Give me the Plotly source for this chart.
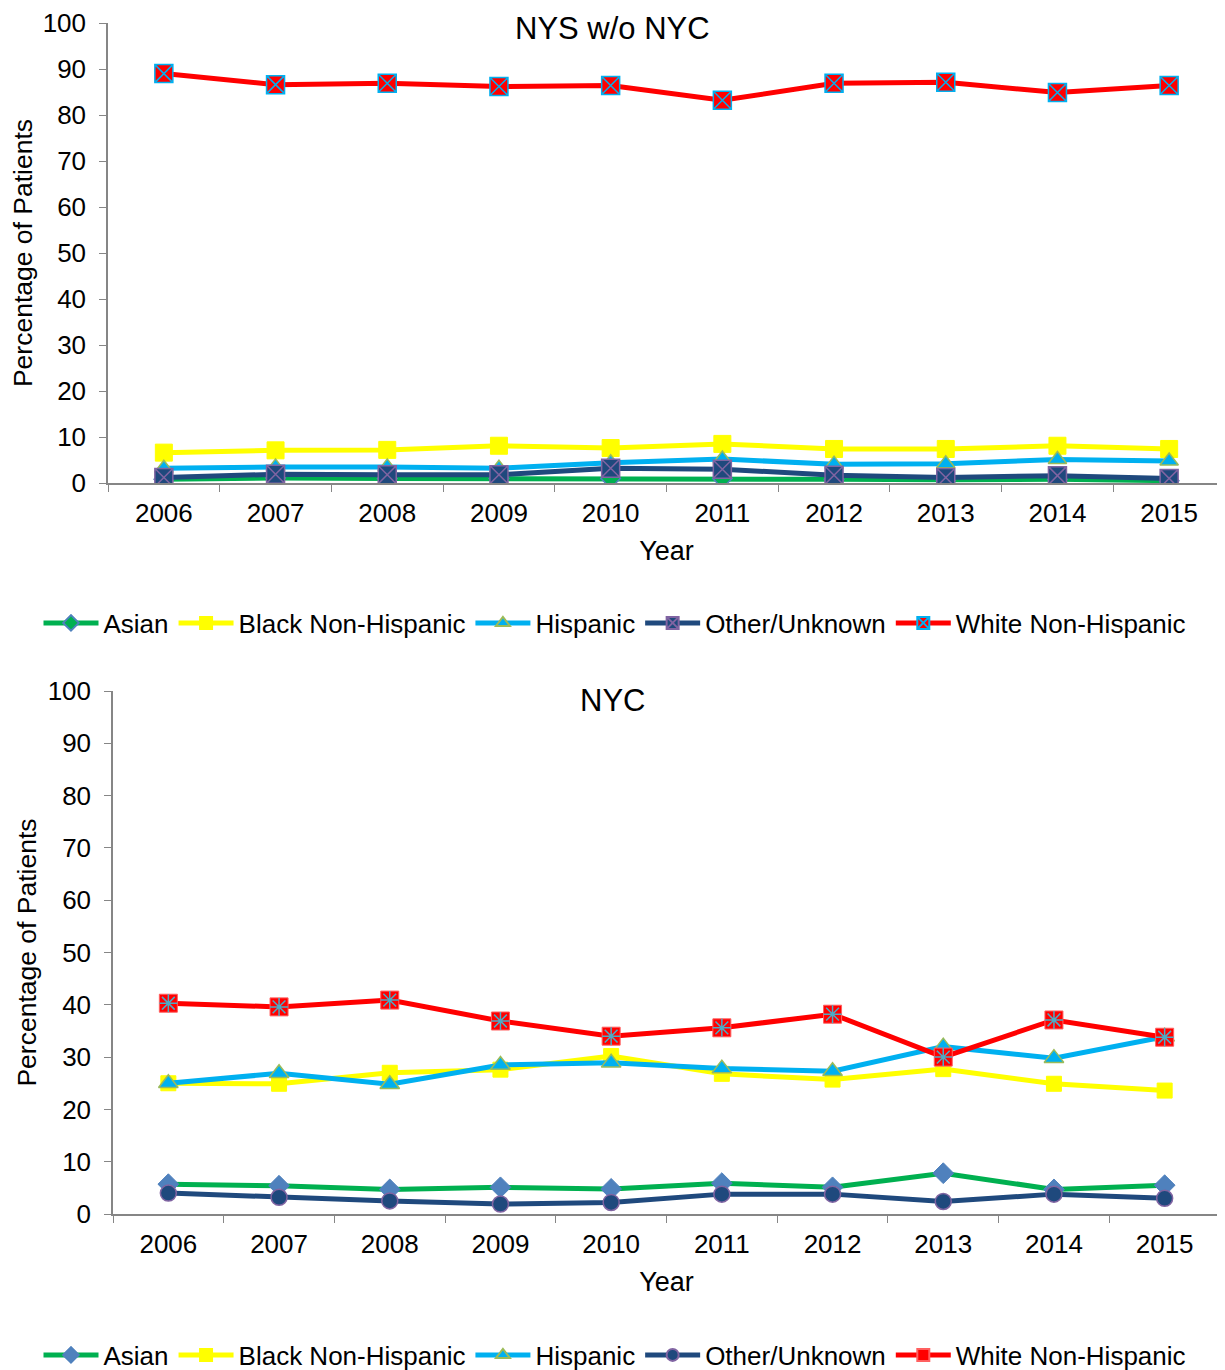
import plotly.graph_objects as go

years = ["2006", "2007", "2008", "2009", "2010", "2011", "2012", "2013", "2014", "2015"]

# NYS w/o NYC
nys_asian = [0.8, 1.1, 1.0, 1.0, 1.0, 1.0, 0.8, 0.7, 0.8, 0.5]
nys_black = [6.6, 7.1, 7.2, 8.1, 7.6, 8.5, 7.4, 7.4, 8.1, 7.4]
nys_hisp = [3.2, 3.5, 3.5, 3.2, 4.4, 5.2, 4.1, 4.2, 5.1, 4.8]
nys_other = [1.2, 1.9, 1.8, 1.8, 3.2, 3.0, 1.7, 1.2, 1.6, 1.0]
nys_white = [89.0, 86.6, 86.9, 86.2, 86.4, 83.2, 86.9, 87.1, 84.9, 86.4]

# NYC
nyc_asian = [5.7, 5.4, 4.7, 5.1, 4.8, 5.9, 5.1, 7.8, 4.7, 5.5]
nyc_black = [25.0, 24.9, 27.0, 27.6, 30.2, 26.8, 25.7, 27.7, 24.9, 23.6]
nyc_hisp = [25.0, 26.9, 24.8, 28.5, 28.9, 27.8, 27.3, 32.0, 29.8, 33.9]
nyc_other = [4.0, 3.2, 2.5, 1.9, 2.2, 3.8, 3.8, 2.4, 3.8, 3.0]
nyc_white = [40.3, 39.6, 40.9, 36.9, 34.0, 35.6, 38.2, 30.0, 37.1, 33.8]

series_names = ["Asian", "Black Non-Hispanic", "Hispanic", "Other/Unknown", "White Non-Hispanic"]

GREEN = "#00B050"
YELLOW = "#FFFF00"
LBLUE = "#00B0F0"
DBLUE = "#1F497D"
RED = "#FF0000"
FONT = "Liberation Sans, Arial, sans-serif"

fig = go.Figure()

def add(name, y, xa, ya, legend, line_color, symbol, fill, mline, mlw, size, lw=5):
    fig.add_trace(go.Scatter(
        x=years, y=y, name=name, mode="lines+markers",
        xaxis=xa, yaxis=ya, legend=legend,
        line=dict(color=line_color, width=lw),
        marker=dict(symbol=symbol, color=fill, size=size,
                    line=dict(color=mline, width=mlw)),
    ))

# top chart
add(series_names[0], nys_asian, "x", "y", "legend", GREEN, "diamond", GREEN, "#4F81BD", 1.5, 15)
add(series_names[1], nys_black, "x", "y", "legend", YELLOW, "square", YELLOW, YELLOW, 1, 17)
add(series_names[2], nys_hisp, "x", "y", "legend", LBLUE, "triangle-up", LBLUE, "#9BBB59", 1.5, 16)
add(series_names[3], nys_other, "x", "y", "legend", DBLUE, "square-x", DBLUE, "#8064A2", 1.5, 18)
add(series_names[4], nys_white, "x", "y", "legend", RED, "square-x", RED, LBLUE, 1.5, 18)

# bottom chart
add(series_names[0], nyc_asian, "x2", "y2", "legend2", GREEN, "diamond", "#4F81BD", "#4F81BD", 1, 16)
add(series_names[1], nyc_black, "x2", "y2", "legend2", YELLOW, "square", YELLOW, YELLOW, 1, 15)
add(series_names[2], nyc_hisp, "x2", "y2", "legend2", LBLUE, "triangle-up", LBLUE, "#9BBB59", 1.5, 17)
add(series_names[3], nyc_other, "x2", "y2", "legend2", DBLUE, "circle", DBLUE, "#8064A2", 1.5, 16)
add(series_names[4], nyc_white, "x2", "y2", "legend2", RED, "square", RED, "#FF6060", 1, 18)
fig.add_trace(go.Scatter(
    x=years, y=nyc_white, mode="markers", xaxis="x2", yaxis="y2", showlegend=False,
    hoverinfo="skip",
    marker=dict(symbol="asterisk-open", size=15, color="#4BACC6",
                line=dict(color="#4BACC6", width=1.5)),
))

axis_color = "#868686"
xcommon = dict(type="category", tickson="boundaries", ticks="outside", ticklen=7,
               tickcolor=axis_color, showline=True, linecolor=axis_color, linewidth=1.5,
               showgrid=False, zeroline=False, range=[-0.5, 9.5], automargin=False,
               ticklabelstandoff=6,
               tickfont=dict(family=FONT, size=26, color="black"),
               title=dict(text="Year", font=dict(family=FONT, size=27, color="black"), standoff=14))
ycommon = dict(range=[0, 100], dtick=10, ticks="outside", ticklen=7, tickcolor=axis_color,
               showline=True, linecolor=axis_color, linewidth=1.5, showgrid=False, zeroline=False,
               automargin=False, ticklabelstandoff=8, ticklabeloverflow="allow",
               tickfont=dict(family=FONT, size=26, color="black"),
               title=dict(text="Percentage of Patients", font=dict(family=FONT, size=26.5, color="black"), standoff=3))

W, H = 1225, 1370
OFF = 8  # page body offset


def px_x(p):
    return (p - OFF) / W


def px_y(p):
    return 1 - (p - OFF) / H


fig.update_layout(
    width=W, height=H,
    margin=dict(l=0, r=0, t=0, b=0, autoexpand=False),
    plot_bgcolor="white", paper_bgcolor="white",
    font=dict(family=FONT, size=26, color="black"),
    xaxis=dict(domain=[px_x(108), px_x(1225)], anchor="y", **xcommon),
    yaxis=dict(domain=[px_y(483), px_y(23)], anchor="x", **ycommon),
    xaxis2=dict(domain=[px_x(113), px_x(1220)], anchor="y2", **xcommon),
    yaxis2=dict(domain=[px_y(1214), px_y(691)], anchor="x2", **ycommon),
    legend=dict(orientation="h", x=px_x(615), xanchor="center", y=px_y(623), yanchor="middle",
                font=dict(family=FONT, size=26, color="black"), itemwidth=55,
                tracegroupgap=0, itemsizing="constant"),
    legend2=dict(orientation="h", x=px_x(615), xanchor="center", y=px_y(1355), yanchor="middle",
                 font=dict(family=FONT, size=26, color="black"), itemwidth=55,
                 tracegroupgap=0, itemsizing="constant"),
    annotations=[
        dict(text="NYS w/o NYC", x=px_x(612), y=px_y(29), xref="paper", yref="paper",
             showarrow=False, font=dict(family=FONT, size=31, color="black"), yanchor="middle"),
        dict(text="NYC", x=px_x(612), y=px_y(701), xref="paper", yref="paper",
             showarrow=False, font=dict(family=FONT, size=31, color="black"), yanchor="middle"),
    ],
)

fig.write_html("out.html")
